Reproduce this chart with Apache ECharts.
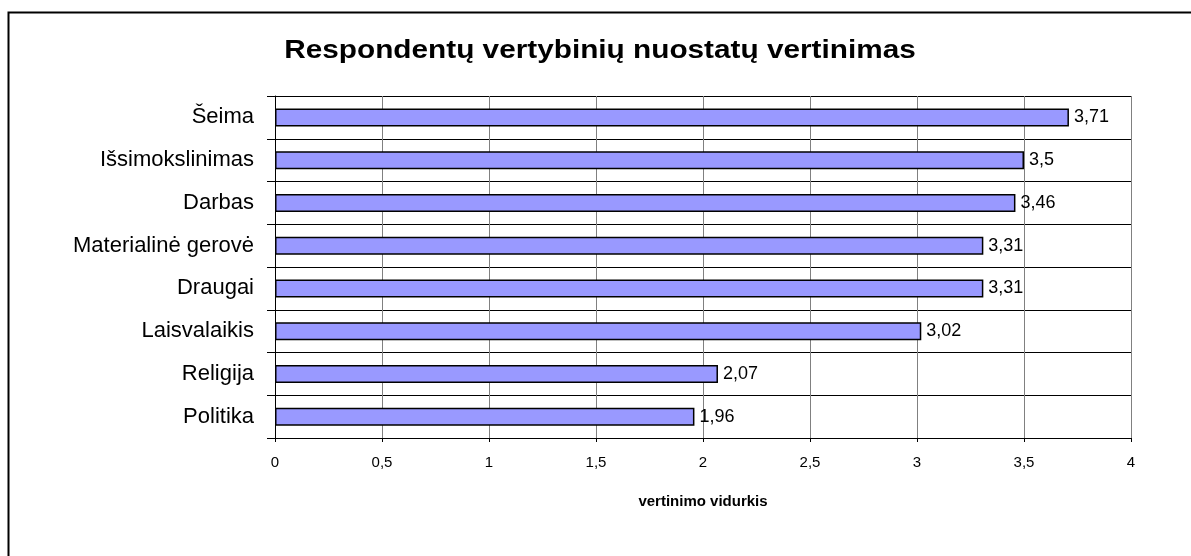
<!DOCTYPE html>
<html>
<head>
<meta charset="utf-8">
<script src="https://cdn.jsdelivr.net/npm/echarts@6/dist/echarts.min.js"></script>
<style>
  html, body { margin: 0; padding: 0; background: #fff; }
  #chart { width: 1191px; height: 556px; }
</style>
</head>
<body>
<div id="chart"></div>
<script>
const categories = ["Šeima", "Išsimokslinimas", "Darbas", "Materialinė gerovė", "Draugai", "Laisvalaikis", "Religija", "Politika"];
const values = [3.71, 3.5, 3.46, 3.31, 3.31, 3.02, 2.07, 1.96];
const titleText = "Respondentų vertybinių nuostatų vertinimas";
const axisName = "vertinimo vidurkis";

const font = "'Liberation Sans', Arial, sans-serif";
const chart = echarts.init(document.getElementById("chart"));

function formatComma(v) {
  return String(v).replace(".", ",");
}

chart.setOption({
  animation: false,
  textStyle: { fontFamily: font },
  graphic: [
    {
      type: "rect",
      shape: { x: 8.5, y: 12.5, width: 1300, height: 700 },
      style: { fill: null, stroke: "#000", lineWidth: 2 },
      silent: true,
      z: -1,
    },
    {
      // title drawn as graphic text so it can be widened like the original
      type: "text",
      x: 600,
      y: 39,
      scaleX: 1.19,
      style: {
        text: titleText,
        fill: "#000",
        font: "bold 25px " + font,
        textAlign: "center",
        textVerticalAlign: "top",
      },
      silent: true,
    },
  ],
  grid: { left: 275, right: 60, top: 96, bottom: 118 },
  xAxis: {
    type: "value",
    min: 0,
    max: 4,
    interval: 0.5,
    name: axisName,
    nameLocation: "middle",
    nameGap: 56,
    nameTextStyle: { fontSize: 15, fontWeight: "bold", color: "#000", fontFamily: font },
    axisLine: { show: true, lineStyle: { color: "#000", width: 1 } },
    axisTick: { show: true, length: 4, lineStyle: { color: "#000" } },
    axisLabel: { color: "#000", fontSize: 15, margin: 17, formatter: formatComma },
    splitLine: { show: true, lineStyle: { color: "#808080", width: 1 } },
  },
  yAxis: {
    type: "category",
    data: categories,
    inverse: true,
    axisLine: { show: true, lineStyle: { color: "#000", width: 1 } },
    axisTick: { show: true, length: 8, inside: false, lineStyle: { color: "#000" } },
    axisLabel: { color: "#000", fontSize: 22, margin: 21 },
    splitLine: { show: true, lineStyle: { color: "#000", width: 1 } },
  },
  series: [
    {
      type: "bar",
      data: values,
      barWidth: 18,
      itemStyle: { color: "#9999ff", borderColor: "#000", borderWidth: 1.5 },
      label: {
        show: true,
        position: "right",
        distance: 5,
        color: "#000",
        fontSize: 18,
        fontFamily: font,
        formatter: (p) => formatComma(p.value),
      },
    },
  ],
});
</script>
</body>
</html>
